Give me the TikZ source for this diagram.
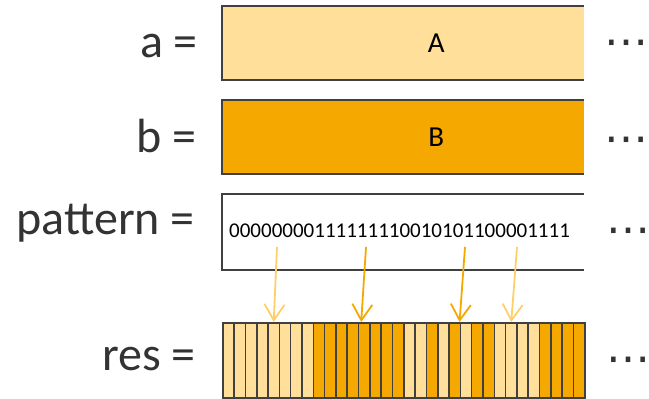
\documentclass[tikz,border=0pt]{standalone}
\usepackage{fontspec}
\setmainfont{Carlito}
\newfontfamily\dotfont{DejaVu Sans}
\usetikzlibrary{arrows.meta,positioning,calc}
\definecolor{colA}{HTML}{FFDF99}
\definecolor{colB}{HTML}{F5A800}
\definecolor{arrA}{HTML}{FFD06A}
\definecolor{edge}{HTML}{404040}
\definecolor{ink}{HTML}{333333}
\begin{document}
\begin{tikzpicture}[x=1pt, y=1pt,
    lbl/.style={anchor=base east, inner sep=0pt, text=ink, font=\fontsize{48}{52}\selectfont},
    box/.style={anchor=north west, inner sep=0pt, minimum width=362pt, minimum height=74pt},
    frame/.style={draw=edge, line width=2pt},
    cell/.style={anchor=north west, inner sep=0pt, draw=edge, line width=1.6pt, minimum width=11.3125pt, minimum height=75pt},
    letter/.style={inner sep=0pt, text=black, font=\fontsize{29}{32}\selectfont},
    dots/.style={anchor=center, inner sep=0pt, text=ink, font=\dotfont\fontsize{44}{48}\selectfont},
    arr/.style={-{Straight Barb[length=16pt,width=20pt]}, line width=1.8pt}
]
    \useasboundingbox (0,0) rectangle (649,399);

    \node [lbl] (la) at (198,341) {a =};
    \node [lbl] (lb) at (197,246) {b =};
    \node [lbl] (lp) at (195,164) {pattern =};
    \node [lbl] (lr) at (196,28) {res =};

    \node [box, fill=colA] (a) at (222,393) {};
    \node [box, fill=colB] (b) at (222,299) {};
    \node [box, fill=white, minimum height=76pt] (p) at (222,205) {};
    \foreach \n in {a,b,p}
        \draw [frame] (\n.north east) -- (\n.north west) -- (\n.south west) -- (\n.south east);
    \node [letter] (ta) at ([xshift=33pt]a.center) {A};
    \node [letter] (tb) at ([xshift=33pt]b.center) {B};
    \node [letter, anchor=base west, font=\fontsize{21}{24}\selectfont] (bits) at (229,161) {00000000111111110010101100001111};

    \foreach \v [count=\i from 0] in {0,0,0,0,0,0,0,0,1,1,1,1,1,1,1,1,0,0,1,0,1,0,1,1,0,0,0,0,1,1,1,1} {
        \ifnum\v=0 \def\cc{colA}\else\def\cc{colB}\fi
        \pgfmathsetmacro{\cx}{222+\i*11.3125}
        \node [cell, fill=\cc] (c\i) at (\cx,77) {};
    }

    \coordinate (s4) at (277,152);
    \coordinate (s12) at (366,152);
    \coordinate (s21) at (465,152);
    \coordinate (s25) at (517,152);
    \draw [arr, draw=arrA] (s4) -- (c4.north);
    \draw [arr, draw=colB] (s12) -- ([xshift=-3pt]c12.north);
    \draw [arr, draw=colB] (s21) -- (c21.north west);
    \draw [arr, draw=arrA] (s25) -- (c25.north);

    \node [dots] (da) at (626,351) {⋯};
    \node [dots] (db) at (626,254) {⋯};
    \node [dots] (dp) at (628,163) {⋯};
    \node [dots] (dr) at (628,34) {⋯};
\end{tikzpicture}
\end{document}
